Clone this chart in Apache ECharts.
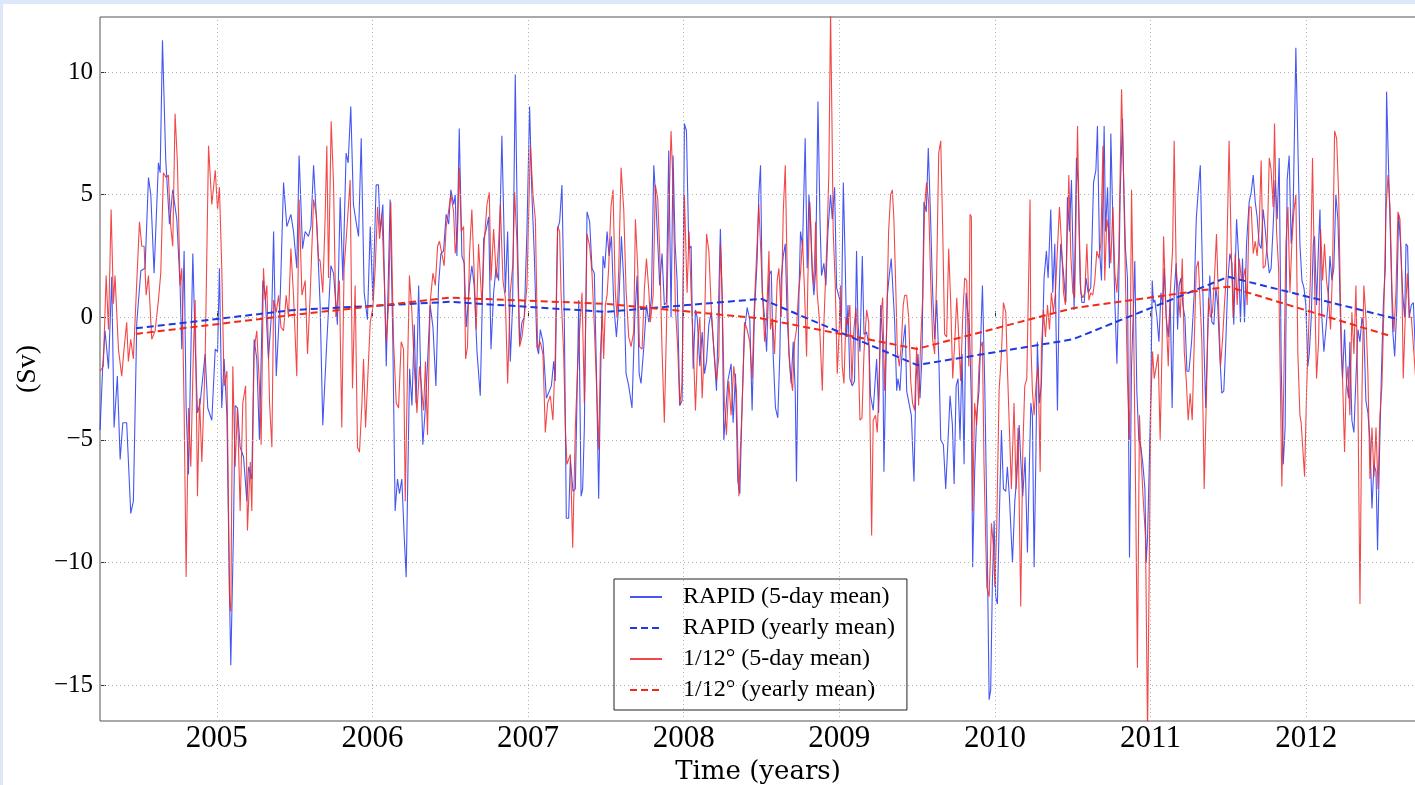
<!DOCTYPE html>
<html>
<head>
<meta charset="utf-8">
<script src="https://cdn.jsdelivr.net/npm/echarts@6/dist/echarts.min.js"></script>
<style>
html,body{margin:0;padding:0;background:#dce8fa;width:1415px;height:785px;overflow:hidden}
#c{position:absolute;left:3px;top:4px;width:1412px;height:781px;background:#fff}
</style>
</head>
<body>
<div id="c"></div>
<script>
// ---- Data (decimal year, Sv) ----
const xTicks = [2005, 2006, 2007, 2008, 2009, 2010, 2011, 2012];
const yTicks = [-15, -10, -5, 0, 5, 10];

const rapid5day = [
[2004.250,-4.6],[2004.267,-2.0],[2004.282,-0.55],[2004.304,-2.1],[2004.325,1.65],[2004.340,-4.5],[2004.361,-2.4],[2004.379,-5.8],[2004.396,-4.3],[2004.421,-4.3],[2004.447,-8.0],[2004.464,-7.5],[2004.486,-0.2],[2004.512,1.9],[2004.539,2.0],[2004.561,5.7],[2004.576,5.0],[2004.597,1.8],[2004.625,6.3],[2004.636,5.9],[2004.651,11.3],[2004.672,6.4],[2004.696,3.8],[2004.717,5.2],[2004.743,4.0],[2004.764,1.3],[2004.775,-1.3],[2004.790,2.7],[2004.803,-3.7],[2004.818,-6.4],[2004.846,2.6],[2004.861,-1.1],[2004.876,-3.9],[2004.893,-3.5],[2004.925,-1.5],[2004.942,-3.7],[2004.968,-4.2],[2004.990,-1.3],
[2005.005,-1.4],[2005.017,2.0],[2005.032,-3.7],[2005.047,-1.7],[2005.065,-4.0],[2005.082,-11.4],[2005.090,-14.2],[2005.107,-8.8],[2005.118,-3.6],[2005.133,-3.7],[2005.150,-5.3],[2005.172,-5.7],[2005.193,-7.5],[2005.204,-6.1],[2005.225,-6.6],[2005.240,-0.9],[2005.257,-1.7],[2005.274,-5.0],[2005.296,1.5],[2005.311,0.9],[2005.332,-1.7],[2005.354,0.4],[2005.365,3.5],[2005.382,-2.4],[2005.408,0.9],[2005.429,5.5],[2005.450,3.7],[2005.476,4.2],[2005.493,3.5],[2005.514,2.0],[2005.529,6.6],[2005.551,2.8],[2005.568,3.5],[2005.589,3.3],[2005.605,3.7],[2005.622,6.2],[2005.643,3.7],[2005.664,0.5],
[2005.681,-4.4],[2005.707,-1.0],[2005.733,2.1],[2005.750,1.8],[2005.775,-0.3],[2005.793,4.9],[2005.810,1.5],[2005.831,6.7],[2005.844,6.3],[2005.861,8.6],[2005.878,4.6],[2005.900,3.7],[2005.911,3.3],[2005.928,7.3],[2005.947,1.0],[2005.968,-0.1],[2005.986,3.7],
[2006.003,0.7],[2006.024,5.4],[2006.039,5.4],[2006.050,3.5],[2006.067,4.6],[2006.089,-2.0],[2006.114,4.8],[2006.131,-0.9],[2006.146,-7.9],[2006.161,-6.6],[2006.174,-7.2],[2006.189,-6.6],[2006.204,-8.9],[2006.217,-10.6],[2006.239,-2.1],[2006.254,-3.6],[2006.269,-0.3],[2006.281,-3.5],[2006.297,1.3],[2006.311,-2.5],[2006.324,-5.2],[2006.339,-3.8],[2006.354,-1.9],[2006.371,0.5],[2006.389,-0.4],[2006.408,-2.8],[2006.425,1.3],[2006.440,2.6],[2006.457,2.7],[2006.474,4.2],[2006.490,3.8],[2006.504,5.2],[2006.522,4.6],[2006.532,5.0],[2006.543,2.5],[2006.558,7.7],[2006.575,2.5],[2006.590,2.2],[2006.603,-0.4],[2006.624,1.3],[2006.639,2.1],[2006.654,1.3],[2006.672,-1.4],[2006.693,-3.2],[2006.715,3.2],[2006.732,3.6],[2006.747,4.1],[2006.762,-1.3],[2006.779,1.0],[2006.794,2.0],[2006.811,1.5],[2006.832,7.4],[2006.843,4.3],[2006.854,1.0],[2006.869,3.5],[2006.886,-1.8],[2006.901,0.5],[2006.918,9.9],[2006.933,3.0],[2006.946,-1.1],[2006.961,-0.2],[2006.976,0.0],[2006.993,3.5],
[2007.010,8.6],[2007.025,5.0],[2007.040,2.6],[2007.057,-1.2],[2007.068,-1.5],[2007.079,-0.5],[2007.096,-1.0],[2007.118,-3.3],[2007.150,-2.8],[2007.165,-1.8],[2007.175,-2.6],[2007.190,3.6],[2007.203,3.9],[2007.218,5.4],[2007.233,0.0],[2007.246,-8.2],[2007.261,-8.2],[2007.272,-5.8],[2007.289,-7.1],[2007.304,-7.0],[2007.326,0.7],[2007.341,-7.3],[2007.351,-7.0],[2007.362,-4.5],[2007.379,4.3],[2007.396,3.9],[2007.411,2.0],[2007.426,1.8],[2007.439,-2.0],[2007.454,-7.4],[2007.469,-1.5],[2007.482,2.5],[2007.493,2.0],[2007.508,3.5],[2007.521,2.5],[2007.536,3.3],[2007.551,0.5],[2007.568,-0.8],[2007.583,0.5],[2007.600,3.3],[2007.615,1.5],[2007.630,-2.3],[2007.647,-2.8],[2007.668,-3.7],[2007.686,0.0],[2007.701,1.7],[2007.714,-2.3],[2007.726,-2.7],[2007.744,-1.2],[2007.761,0.5],[2007.776,-0.2],[2007.793,0.8],[2007.808,6.2],[2007.821,4.8],[2007.834,3.0],[2007.846,1.3],[2007.861,2.6],[2007.876,0.5],[2007.889,0.6],[2007.904,6.8],[2007.919,0.0],[2007.932,6.6],[2007.945,3.0],[2007.958,1.5],[2007.975,-3.6],[2007.990,-3.4],
[2008.005,7.9],[2008.018,7.6],[2008.033,2.8],[2008.048,2.9],[2008.061,-2.1],[2008.076,0.3],[2008.087,0.0],[2008.104,-2.0],[2008.119,-0.6],[2008.134,-2.3],[2008.147,-1.8],[2008.162,-0.3],[2008.177,0.2],[2008.194,-1.3],[2008.211,-3.0],[2008.236,3.6],[2008.247,1.0],[2008.258,-5.0],[2008.269,-4.0],[2008.284,-2.6],[2008.305,-1.9],[2008.318,-4.3],[2008.333,-2.3],[2008.348,-6.7],[2008.361,-7.2],[2008.376,-3.5],[2008.391,-0.6],[2008.408,0.4],[2008.425,-0.1],[2008.440,-3.8],[2008.455,0.2],[2008.472,2.3],[2008.483,5.0],[2008.494,6.2],[2008.505,1.0],[2008.520,0.0],[2008.533,-1.4],[2008.548,1.7],[2008.563,1.9],[2008.575,-1.5],[2008.590,-3.7],[2008.605,-4.1],[2008.618,-1.5],[2008.627,1.6],[2008.640,2.5],[2008.653,3.0],[2008.665,0.0],[2008.678,-1.5],[2008.691,-2.7],[2008.704,-1.0],[2008.717,-3.0],[2008.725,-6.7],[2008.741,1.0],[2008.751,3.5],[2008.764,2.9],[2008.781,7.3],[2008.794,2.0],[2008.805,5.0],[2008.816,3.8],[2008.826,1.8],[2008.837,0.9],[2008.848,1.9],[2008.863,8.8],[2008.876,4.0],[2008.886,1.7],[2008.901,2.2],[2008.914,1.3],[2008.927,3.5],[2008.944,5.0],[2008.955,4.0],[2008.970,5.3],[2008.983,1.2],[2008.991,1.2],
[2009.004,0.7],[2009.013,-0.5],[2009.026,5.5],[2009.038,2.3],[2009.047,-0.8],[2009.056,0.5],[2009.068,-2.5],[2009.083,-2.8],[2009.098,-2.6],[2009.111,2.7],[2009.120,-0.2],[2009.133,-1.4],[2009.148,2.5],[2009.159,-0.7],[2009.176,-0.6],[2009.191,-1.2],[2009.201,-3.2],[2009.218,-3.8],[2009.229,-3.8],[2009.240,-1.7],[2009.253,-3.9],[2009.266,0.5],[2009.279,-1.0],[2009.287,-6.3],[2009.298,-2.5],[2009.309,0.9],[2009.321,1.7],[2009.334,2.4],[2009.345,2.4],[2009.356,-0.2],[2009.369,-3.0],[2009.377,-2.5],[2009.390,-3.0],[2009.401,-1.7],[2009.411,-1.0],[2009.424,-0.3],[2009.433,-3.0],[2009.448,-3.5],[2009.463,-4.0],[2009.480,-6.7],[2009.493,-2.5],[2009.506,-1.5],[2009.519,-3.3],[2009.532,-1.5],[2009.544,4.7],[2009.559,4.3],[2009.572,6.9],[2009.587,4.0],[2009.600,1.0],[2009.613,-0.9],[2009.626,0.7],[2009.641,-2.0],[2009.652,-5.0],[2009.669,-5.2],[2009.684,-7.0],[2009.699,-5.0],[2009.712,-3.2],[2009.727,-4.4],[2009.738,-6.8],[2009.751,-2.8],[2009.763,-2.5],[2009.776,-5.0],[2009.789,-1.5],[2009.802,-6.0],[2009.815,1.0],[2009.823,0.4],[2009.836,-0.3],[2009.849,-3.5],[2009.857,-10.2],[2009.870,-6.3],[2009.883,-4.0],[2009.898,-3.0],[2009.920,1.3],[2009.935,-2.8],[2009.948,-8.0],[2009.963,-15.6],[2009.973,-15.2],[2009.984,-10.8],[2009.995,-8.3],
[2010.005,-11.4],[2010.016,-11.7],[2010.029,-8.0],[2010.042,-4.6],[2010.055,-7.0],[2010.070,-7.1],[2010.080,-6.1],[2010.093,-7.3],[2010.113,-10.0],[2010.128,-7.5],[2010.141,-6.5],[2010.156,-4.4],[2010.166,-5.8],[2010.179,-7.3],[2010.194,-5.7],[2010.209,-9.6],[2010.222,-6.0],[2010.231,-3.5],[2010.241,-4.0],[2010.252,-10.2],[2010.263,-5.8],[2010.273,-1.0],[2010.286,-3.5],[2010.299,-2.7],[2010.316,1.6],[2010.331,2.7],[2010.342,1.6],[2010.359,4.4],[2010.372,1.0],[2010.385,3.0],[2010.393,-0.5],[2010.402,-3.8],[2010.413,1.0],[2010.423,3.0],[2010.438,2.0],[2010.456,0.6],[2010.466,4.9],[2010.479,3.5],[2010.492,5.6],[2010.509,0.3],[2010.524,6.5],[2010.535,5.5],[2010.548,1.4],[2010.559,0.6],[2010.574,0.6],[2010.586,1.6],[2010.599,1.0],[2010.616,1.2],[2010.634,5.5],[2010.649,6.0],[2010.659,7.8],[2010.672,2.8],[2010.685,1.5],[2010.702,7.8],[2010.711,3.5],[2010.724,5.3],[2010.736,2.0],[2010.745,7.5],[2010.758,4.0],[2010.771,0.6],[2010.784,-1.9],[2010.796,1.2],[2010.805,5.0],[2010.820,8.1],[2010.826,6.0],[2010.839,2.8],[2010.852,1.6],[2010.865,-9.8],[2010.878,-2.0],[2010.891,0.5],[2010.899,2.3],[2010.912,-3.0],[2010.925,-5.0],[2010.938,-5.3],[2010.951,-6.0],[2010.964,-7.0],[2010.972,-10.0],[2010.981,-9.0],[2010.992,-6.0],
[2011.002,-3.2],[2011.011,1.5],[2011.019,0.6],[2011.028,0.7],[2011.041,0.0],[2011.054,-1.0],[2011.067,1.0],[2011.079,0.5],[2011.088,2.0],[2011.101,0.0],[2011.114,-0.8],[2011.127,0.7],[2011.139,-3.7],[2011.152,1.0],[2011.165,2.2],[2011.174,-0.5],[2011.184,1.3],[2011.195,1.6],[2011.208,0.5],[2011.221,0.0],[2011.234,-2.2],[2011.247,-2.2],[2011.264,-1.0],[2011.281,1.0],[2011.294,4.0],[2011.307,5.2],[2011.320,6.2],[2011.330,3.0],[2011.345,-1.5],[2011.355,-3.7],[2011.368,-0.5],[2011.381,1.7],[2011.394,-0.2],[2011.407,-0.3],[2011.420,1.2],[2011.432,0.5],[2011.445,-1.5],[2011.458,-3.1],[2011.471,-3.0],[2011.484,-1.0],[2011.497,1.5],[2011.510,2.6],[2011.523,2.2],[2011.535,-0.3],[2011.553,4.0],[2011.565,2.6],[2011.578,-0.2],[2011.591,2.4],[2011.604,-0.2],[2011.617,3.0],[2011.634,4.7],[2011.647,5.1],[2011.660,5.8],[2011.673,4.7],[2011.685,4.1],[2011.698,3.0],[2011.711,2.8],[2011.724,4.4],[2011.737,3.6],[2011.750,2.6],[2011.763,1.8],[2011.775,2.0],[2011.788,3.7],[2011.801,5.6],[2011.814,4.0],[2011.827,6.5],[2011.840,-2.0],[2011.853,-6.0],[2011.865,-4.5],[2011.878,5.6],[2011.891,6.6],[2011.904,3.0],[2011.917,4.5],[2011.934,11.0],[2011.947,7.0],[2011.960,3.0],[2011.973,1.5],[2011.986,1.2],[2011.998,0.5],
[2012.011,-2.0],[2012.020,-1.5],[2012.033,0.0],[2012.046,3.0],[2012.054,3.3],[2012.067,0.5],[2012.080,3.0],[2012.089,4.4],[2012.101,0.0],[2012.114,-1.4],[2012.127,-0.5],[2012.140,0.5],[2012.153,2.5],[2012.166,1.5],[2012.178,2.0],[2012.191,5.0],[2012.204,4.0],[2012.213,2.0],[2012.226,-1.5],[2012.234,-2.5],[2012.247,-0.5],[2012.260,-2.7],[2012.273,-3.3],[2012.281,-1.0],[2012.294,-4.2],[2012.307,-4.7],[2012.320,-2.5],[2012.333,-0.5],[2012.346,-1.0],[2012.359,0.0],[2012.371,-0.5],[2012.384,-3.4],[2012.397,-3.9],[2012.410,-5.0],[2012.423,-7.8],[2012.436,-6.0],[2012.449,-6.3],[2012.459,-9.5],[2012.470,-6.0],[2012.483,-2.5],[2012.496,0.5],[2012.509,2.0],[2012.517,9.2],[2012.530,6.0],[2012.543,3.0],[2012.556,-0.5],[2012.569,-1.6],[2012.582,0.3],[2012.594,4.2],[2012.607,3.0],[2012.620,1.0],[2012.633,0.0],[2012.642,3.0],[2012.652,2.9],[2012.663,0.0],[2012.676,0.5],[2012.689,0.6],[2012.706,-2.0]
];

const model5day = [
[2004.250,-2.2],[2004.271,-2.0],[2004.289,1.7],[2004.304,-0.5],[2004.321,4.4],[2004.336,0.55],[2004.346,1.7],[2004.368,-1.3],[2004.389,-2.4],[2004.404,-1.3],[2004.421,-0.2],[2004.432,-1.8],[2004.447,-0.9],[2004.464,-1.7],[2004.482,0.9],[2004.503,3.9],[2004.518,2.9],[2004.533,2.9],[2004.546,0.9],[2004.561,1.7],[2004.582,-0.9],[2004.604,-0.55],[2004.625,0.7],[2004.640,1.8],[2004.657,5.9],[2004.674,5.7],[2004.689,5.8],[2004.704,3.7],[2004.717,2.9],[2004.732,8.3],[2004.747,6.3],[2004.764,1.3],[2004.775,2.0],[2004.790,-3.7],[2004.803,-10.6],[2004.818,-3.7],[2004.833,-6.1],[2004.850,-1.3],[2004.861,0.7],[2004.876,-7.3],[2004.889,-3.3],[2004.904,-5.9],[2004.925,-1.8],[2004.947,7.0],[2004.968,4.6],[2004.990,6.0],
[2005.005,4.4],[2005.017,5.3],[2005.032,2.0],[2005.047,-2.8],[2005.065,-2.2],[2005.082,-11.6],[2005.090,-12.0],[2005.103,-2.0],[2005.118,-6.1],[2005.133,-3.7],[2005.150,-7.9],[2005.167,-3.5],[2005.185,-2.8],[2005.197,-8.7],[2005.215,-5.9],[2005.225,-7.9],[2005.240,-1.3],[2005.257,-0.55],[2005.274,-2.8],[2005.285,-5.2],[2005.300,2.0],[2005.311,0.7],[2005.322,1.3],[2005.339,-3.5],[2005.354,-5.3],[2005.365,0.7],[2005.382,0.2],[2005.397,0.9],[2005.412,-0.4],[2005.429,-0.55],[2005.446,0.9],[2005.461,0.0],[2005.476,2.8],[2005.493,0.9],[2005.514,-2.4],[2005.529,4.8],[2005.547,0.9],[2005.568,1.5],[2005.583,-1.5],[2005.600,0.9],[2005.622,4.8],[2005.639,4.2],[2005.654,2.4],[2005.664,2.3],
[2005.681,1.0],[2005.696,4.0],[2005.707,7.0],[2005.718,1.6],[2005.735,8.0],[2005.750,5.5],[2005.765,0.0],[2005.788,1.5],[2005.803,-4.5],[2005.818,2.0],[2005.835,3.5],[2005.857,5.6],[2005.872,-2.9],[2005.889,1.3],[2005.904,-5.3],[2005.917,-5.5],[2005.932,-3.6],[2005.943,-1.7],[2005.956,-4.5],[2005.968,-4.5],[2005.986,-0.2],
[2006.003,0.4],[2006.018,2.0],[2006.033,4.5],[2006.046,3.2],[2006.061,4.2],[2006.076,1.5],[2006.089,-1.0],[2006.104,0.5],[2006.118,4.7],[2006.136,-1.0],[2006.153,-3.5],[2006.168,-3.7],[2006.185,-1.0],[2006.200,-1.3],[2006.211,-7.5],[2006.226,-2.0],[2006.238,1.7],[2006.253,0.3],[2006.269,-2.0],[2006.286,-3.9],[2006.303,-2.0],[2006.329,-3.8],[2006.341,-1.8],[2006.354,-4.8],[2006.371,0.6],[2006.389,1.8],[2006.404,1.3],[2006.419,2.9],[2006.431,3.1],[2006.446,2.6],[2006.461,2.1],[2006.474,3.7],[2006.489,4.3],[2006.504,5.0],[2006.522,4.3],[2006.532,2.6],[2006.547,3.5],[2006.558,6.1],[2006.571,3.5],[2006.586,3.7],[2006.599,-1.7],[2006.611,-1.2],[2006.624,2.6],[2006.639,4.4],[2006.654,1.8],[2006.667,-0.5],[2006.682,3.0],[2006.704,0.5],[2006.719,3.1],[2006.736,4.6],[2006.751,5.1],[2006.762,1.5],[2006.779,3.6],[2006.796,1.6],[2006.811,3.0],[2006.822,4.6],[2006.839,1.5],[2006.854,0.8],[2006.869,-2.7],[2006.886,1.0],[2006.903,2.2],[2006.914,5.1],[2006.929,3.0],[2006.946,-1.2],[2006.961,-0.8],[2006.976,0.0],[2006.993,1.3],
[2007.015,7.0],[2007.032,5.0],[2007.047,4.0],[2007.062,-1.3],[2007.079,-1.0],[2007.096,-1.5],[2007.111,-4.7],[2007.126,-3.5],[2007.143,-3.2],[2007.160,-4.2],[2007.175,-1.5],[2007.190,3.7],[2007.203,3.5],[2007.212,1.0],[2007.229,-1.5],[2007.240,-4.5],[2007.250,-6.0],[2007.261,-6.0],[2007.272,-5.6],[2007.287,-9.4],[2007.304,-4.5],[2007.319,-2.0],[2007.332,-0.5],[2007.347,1.0],[2007.362,-3.5],[2007.379,3.4],[2007.396,2.9],[2007.411,1.8],[2007.426,-0.4],[2007.439,-2.6],[2007.454,-5.4],[2007.465,-1.5],[2007.478,0.2],[2007.486,-1.7],[2007.497,0.5],[2007.508,0.9],[2007.518,2.0],[2007.533,4.5],[2007.546,5.2],[2007.561,1.0],[2007.572,0.0],[2007.583,2.0],[2007.598,6.1],[2007.615,4.4],[2007.630,1.1],[2007.647,-0.8],[2007.662,-1.2],[2007.679,-0.6],[2007.690,4.0],[2007.705,2.0],[2007.716,-1.2],[2007.733,-1.3],[2007.748,1.2],[2007.761,2.4],[2007.776,1.1],[2007.786,-0.2],[2007.804,0.9],[2007.818,5.4],[2007.834,4.8],[2007.846,2.7],[2007.861,-1.3],[2007.876,-4.3],[2007.889,-0.6],[2007.904,4.1],[2007.919,7.6],[2007.932,5.4],[2007.947,0.4],[2007.962,-1.3],[2007.975,-3.6],[2007.990,-2.7],
[2008.005,5.0],[2008.022,1.0],[2008.035,3.5],[2008.048,1.0],[2008.061,-1.0],[2008.076,-3.8],[2008.091,-1.0],[2008.104,0.0],[2008.119,-3.3],[2008.129,-1.8],[2008.147,3.4],[2008.162,2.7],[2008.177,0.4],[2008.194,-1.3],[2008.211,-2.6],[2008.226,-1.6],[2008.236,3.0],[2008.247,1.0],[2008.262,-3.5],[2008.275,-4.8],[2008.290,-2.6],[2008.305,-4.0],[2008.322,-2.0],[2008.339,-3.0],[2008.355,-7.3],[2008.365,-5.3],[2008.376,-3.6],[2008.391,-0.2],[2008.408,-0.5],[2008.425,-1.0],[2008.440,-2.5],[2008.455,0.6],[2008.472,3.0],[2008.483,4.6],[2008.507,1.0],[2008.520,-1.0],[2008.533,0.0],[2008.548,2.7],[2008.558,-0.5],[2008.571,0.0],[2008.584,-1.5],[2008.601,1.5],[2008.612,2.0],[2008.627,0.0],[2008.640,4.3],[2008.653,6.2],[2008.665,2.0],[2008.676,-1.5],[2008.687,-2.4],[2008.700,-3.0],[2008.713,-1.0],[2008.725,-0.5],[2008.738,1.0],[2008.751,1.8],[2008.764,3.2],[2008.777,1.0],[2008.790,-1.6],[2008.798,1.5],[2008.811,4.7],[2008.826,2.1],[2008.837,1.3],[2008.848,3.9],[2008.858,1.0],[2008.871,0.0],[2008.880,-1.3],[2008.891,-3.0],[2008.901,-0.3],[2008.912,1.6],[2008.923,3.5],[2008.933,5.9],[2008.944,12.5],[2008.953,8.0],[2008.961,3.5],[2008.974,1.4],[2008.987,-2.3],
[2009.000,-0.5],[2009.008,1.3],[2009.019,-2.0],[2009.030,-2.7],[2009.043,0.0],[2009.056,-0.3],[2009.068,0.5],[2009.081,-2.7],[2009.094,-0.5],[2009.107,0.4],[2009.120,-1.0],[2009.133,-4.2],[2009.146,-4.1],[2009.159,-1.4],[2009.176,0.3],[2009.189,-0.2],[2009.208,-8.9],[2009.218,-4.2],[2009.233,-4.0],[2009.244,-4.7],[2009.255,-3.0],[2009.266,0.0],[2009.279,0.8],[2009.291,-3.0],[2009.304,-0.5],[2009.317,3.5],[2009.330,5.0],[2009.341,5.2],[2009.351,4.0],[2009.364,1.0],[2009.373,-1.4],[2009.386,-2.0],[2009.399,-1.1],[2009.411,0.5],[2009.420,0.9],[2009.433,0.9],[2009.446,0.0],[2009.459,-2.6],[2009.471,-3.5],[2009.484,-3.8],[2009.497,-1.2],[2009.510,-3.6],[2009.523,-1.0],[2009.536,0.8],[2009.549,4.6],[2009.561,5.5],[2009.574,4.7],[2009.587,1.6],[2009.600,-0.9],[2009.613,-1.5],[2009.626,1.8],[2009.639,6.7],[2009.652,7.2],[2009.664,3.8],[2009.677,-0.7],[2009.690,-0.8],[2009.703,2.8],[2009.716,0.6],[2009.729,-2.5],[2009.742,-1.0],[2009.755,0.8],[2009.767,-0.7],[2009.780,-2.6],[2009.793,0.0],[2009.806,1.6],[2009.819,1.5],[2009.832,-2.0],[2009.840,4.2],[2009.849,4.1],[2009.857,-7.9],[2009.870,-3.5],[2009.883,-4.4],[2009.898,-2.0],[2009.909,-1.2],[2009.920,-1.0],[2009.930,-6.0],[2009.948,-11.0],[2009.963,-11.4],[2009.978,-8.4],[2009.990,-9.3],
[2010.000,-11.0],[2010.012,-8.5],[2010.027,-3.0],[2010.042,-1.5],[2010.055,0.6],[2010.070,0.2],[2010.080,-2.0],[2010.093,-4.5],[2010.106,-7.0],[2010.123,-3.5],[2010.136,-7.0],[2010.149,-4.5],[2010.166,-11.8],[2010.179,-5.5],[2010.192,-2.8],[2010.205,-2.5],[2010.226,4.8],[2010.231,-1.0],[2010.241,-3.0],[2010.252,-4.0],[2010.265,-2.7],[2010.278,-2.0],[2010.291,-6.3],[2010.299,-1.2],[2010.312,0.3],[2010.325,-0.8],[2010.338,0.5],[2010.351,-0.5],[2010.363,1.0],[2010.376,0.2],[2010.389,1.0],[2010.402,2.8],[2010.415,4.5],[2010.428,3.0],[2010.441,1.0],[2010.453,0.5],[2010.462,2.6],[2010.475,5.8],[2010.488,2.5],[2010.501,1.0],[2010.513,0.8],[2010.531,7.8],[2010.541,4.0],[2010.552,1.0],[2010.565,0.8],[2010.578,1.0],[2010.591,3.0],[2010.604,0.7],[2010.616,1.0],[2010.629,0.9],[2010.642,1.5],[2010.655,2.7],[2010.668,2.4],[2010.681,3.0],[2010.694,7.0],[2010.706,1.5],[2010.719,4.0],[2010.732,3.5],[2010.745,2.2],[2010.758,4.5],[2010.771,1.8],[2010.784,1.0],[2010.796,2.5],[2010.814,9.3],[2010.826,6.0],[2010.839,1.5],[2010.852,-2.5],[2010.865,-5.0],[2010.878,5.2],[2010.891,0.0],[2010.904,-7.0],[2010.916,-14.3],[2010.929,-4.0],[2010.938,-5.5],[2010.951,-7.2],[2010.968,-9.0],[2010.981,-17.0],[2010.992,-10.0],
[2011.002,-3.5],[2011.013,-1.4],[2011.024,-2.5],[2011.037,-2.0],[2011.049,-1.5],[2011.062,-5.0],[2011.075,-1.0],[2011.084,3.3],[2011.101,0.0],[2011.114,-2.0],[2011.127,1.0],[2011.142,2.8],[2011.152,7.2],[2011.165,2.0],[2011.178,1.0],[2011.191,0.0],[2011.204,2.4],[2011.217,-1.4],[2011.230,-2.6],[2011.242,-4.2],[2011.255,-3.1],[2011.268,-4.2],[2011.281,-1.0],[2011.294,2.0],[2011.307,2.3],[2011.330,-1.0],[2011.345,-7.0],[2011.360,-3.0],[2011.373,0.8],[2011.385,0.0],[2011.398,0.2],[2011.411,1.6],[2011.424,3.4],[2011.437,0.6],[2011.450,-2.0],[2011.462,-1.0],[2011.475,0.5],[2011.488,1.8],[2011.505,7.2],[2011.518,3.0],[2011.531,0.0],[2011.544,2.6],[2011.557,0.5],[2011.570,2.4],[2011.583,1.6],[2011.595,1.5],[2011.608,2.0],[2011.621,0.5],[2011.634,4.5],[2011.647,4.5],[2011.660,2.6],[2011.673,3.1],[2011.685,2.5],[2011.698,3.6],[2011.711,6.4],[2011.724,2.0],[2011.737,2.1],[2011.750,3.0],[2011.763,6.5],[2011.775,6.0],[2011.788,4.5],[2011.797,7.9],[2011.810,3.5],[2011.823,2.0],[2011.835,-3.0],[2011.844,-6.9],[2011.857,-2.5],[2011.870,3.0],[2011.883,4.5],[2011.896,1.0],[2011.908,3.0],[2011.921,4.3],[2011.934,5.0],[2011.947,-1.5],[2011.960,-4.0],[2011.968,-4.3],[2011.977,-4.3],[2011.990,-6.5],
[2012.003,-3.0],[2012.016,-0.5],[2012.028,1.7],[2012.041,6.5],[2012.054,1.5],[2012.067,-2.5],[2012.080,-1.0],[2012.093,3.6],[2012.106,1.5],[2012.118,3.0],[2012.131,1.5],[2012.144,0.8],[2012.157,-0.5],[2012.170,2.0],[2012.183,7.6],[2012.196,7.3],[2012.209,5.0],[2012.221,0.5],[2012.234,-2.5],[2012.247,-5.5],[2012.256,-3.0],[2012.269,-2.0],[2012.281,-4.0],[2012.294,0.2],[2012.307,-1.5],[2012.320,1.3],[2012.333,-3.5],[2012.346,-11.7],[2012.359,-3.0],[2012.371,1.3],[2012.384,0.0],[2012.397,-2.3],[2012.410,-6.6],[2012.423,-4.5],[2012.436,-6.5],[2012.449,-4.5],[2012.462,-7.0],[2012.474,-4.0],[2012.487,-2.8],[2012.500,0.5],[2012.513,4.3],[2012.526,5.8],[2012.539,4.5],[2012.552,1.0],[2012.564,-0.6],[2012.577,1.0],[2012.590,4.3],[2012.603,4.0],[2012.616,1.3],[2012.624,-2.5],[2012.637,0.0],[2012.650,1.8],[2012.663,0.0],[2012.676,0.0],[2012.693,-1.5],[2012.706,-2.7]
];

const rapidYearly = [[2004.48,-0.45],[2005.5,0.3],[2006.5,0.63],[2007.5,0.22],[2008.5,0.75],[2009.5,-1.95],[2010.5,-0.9],[2011.5,1.65],[2012.57,-0.05]];
const modelYearly = [[2004.48,-0.68],[2005.5,0.1],[2006.5,0.8],[2007.5,0.55],[2008.5,-0.05],[2009.5,-1.29],[2010.5,0.37],[2011.5,1.25],[2012.55,-0.78]];

const seriesNames = ['RAPID (5-day mean)', 'RAPID (yearly mean)', '1/12\u00B0 (5-day mean)', '1/12\u00B0 (yearly mean)'];

// ---- Chart ----
const FONT = 'Liberation Serif';
const chart = echarts.init(document.getElementById('c'), null, {renderer: 'canvas'});
const gridStyle = {color: '#b0b0b0', width: 1, type: [1, 3]};
const minus = v => (v < 0 ? '\u2212' + Math.abs(v) : String(v));

chart.setOption({
  animation: false,
  backgroundColor: '#fff',
  grid: {left: 97, top: 13, right: -1, bottom: 64, show: true, borderColor: '#555', borderWidth: 1, backgroundColor: 'transparent', outerBoundsMode: 'none', containLabel: false},
  xAxis: {
    type: 'value', min: 2004.2495, max: 2012.706,
    axisLine: {show: false},
    axisTick: {show: true, inside: true, length: 6, customValues: xTicks, lineStyle: {color: '#333'}},
    axisLabel: {customValues: xTicks, fontFamily: FONT, fontSize: 31, color: '#000', margin: 2, formatter: v => String(v)},
    splitLine: {show: false},
    name: 'Time (years)', nameLocation: 'middle', nameGap: 34,
    nameTextStyle: {fontFamily: 'DejaVu Serif', fontSize: 26, color: '#000'}
  },
  yAxis: {
    type: 'value', min: -16.47, max: 12.25,
    axisLine: {show: false},
    axisTick: {show: true, inside: true, length: 6, customValues: yTicks, lineStyle: {color: '#333'}},
    axisLabel: {customValues: yTicks, fontFamily: FONT, fontSize: 25, color: '#000', margin: 7, formatter: minus},
    splitLine: {show: false},
    name: '(Sv)', nameLocation: 'middle', nameGap: 58, nameRotate: 90,
    nameTextStyle: {fontFamily: FONT, fontSize: 28, color: '#000'}
  },
  legend: {
    data: seriesNames,
    orient: 'vertical', left: 611, top: 575,
    backgroundColor: '#fff', borderColor: '#222', borderWidth: 1,
    padding: [6, 12, 8, 15],
    itemWidth: 32, itemHeight: 14, itemGap: 7,
    selectedMode: false,
    itemStyle: {opacity: 0, borderWidth: 0},
    textStyle: {fontFamily: FONT, fontSize: 24, color: '#000', padding: [0, 0, 0, 16]}
  },
  series: [
    {
      name: 'grid', type: 'line', data: [], silent: true, z: 1,
      markLine: {
        silent: true, symbol: ['none', 'none'], label: {show: false},
        lineStyle: gridStyle, animation: false,
        data: xTicks.map(v => ({xAxis: v})).concat(yTicks.map(v => ({yAxis: v})))
      }
    },
    {
      name: seriesNames[0], type: 'line', data: rapid5day, showSymbol: false, symbol: 'none', z: 2,
      lineStyle: {color: '#2438f0', width: 1.1, opacity: 0.85}, itemStyle: {color: '#2438f0'}
    },
    {
      name: seriesNames[1], type: 'line', data: rapidYearly, showSymbol: false, symbol: 'none', z: 5,
      lineStyle: {color: '#1c3ae0', width: 2, type: [7, 4]}, itemStyle: {color: '#1c3ae0'}
    },
    {
      name: seriesNames[2], type: 'line', data: model5day, showSymbol: false, symbol: 'none', z: 3,
      lineStyle: {color: '#f02828', width: 1.1, opacity: 0.85}, itemStyle: {color: '#f02828'}
    },
    {
      name: seriesNames[3], type: 'line', data: modelYearly, showSymbol: false, symbol: 'none', z: 6,
      lineStyle: {color: '#f02a18', width: 2, type: [7, 4]}, itemStyle: {color: '#f02a18'}
    }
  ]
});
</script>
</body>
</html>
